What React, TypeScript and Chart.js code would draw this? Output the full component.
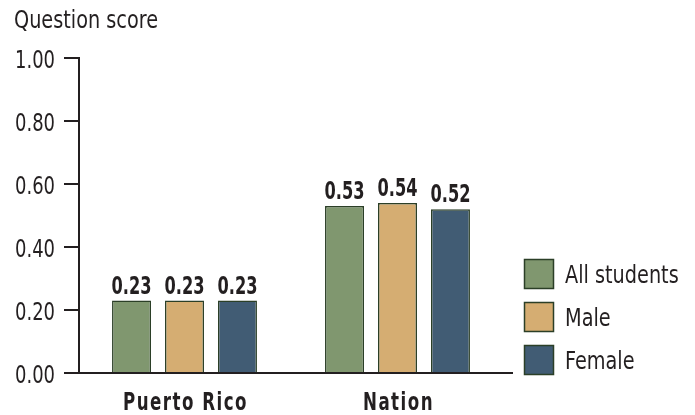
import React, { useEffect, useRef } from "react";
import { Chart, registerables } from "chart.js";

Chart.register(...registerables);

const categories = ["Puerto Rico", "Nation"];
const seriesNames = ["All students", "Male", "Female"];
const allStudents = [0.23, 0.53];
const male = [0.23, 0.54];
const female = [0.23, 0.52];
const yTicks = [0, 0.2, 0.4, 0.6, 0.8, 1.0];
const yTitle = "Question score";
const colors = ["#80976f", "#d5ad72", "#415c74"];
const borderColor = "#2b3f27";
const textColor = "#231f20";
const FONT = "'Liberation Sans Narrow', 'DejaVu Sans Condensed', 'Liberation Sans', sans-serif";
const SIZE = 25;

// draws horizontally condensed text (the reference uses a condensed face)
function condensedText(ctx: any, text: string, x: number, y: number, align: string, sx: number) {
  ctx.save();
  ctx.translate(x, y);
  ctx.scale(sx, 1);
  ctx.textAlign = align;
  ctx.textBaseline = "alphabetic";
  ctx.fillText(text, 0, 0);
  ctx.restore();
}

const overlayPlugin = {
  id: "overlay",
  afterDraw(chart: any) {
    const ctx = chart.ctx;
    const area = chart.chartArea;
    const xs = chart.scales.x;
    const ys = chart.scales.y;
    ctx.save();
    // axes lines
    ctx.strokeStyle = textColor;
    ctx.lineWidth = 2;
    ctx.beginPath();
    ctx.moveTo(area.left + 1, area.top - 1);
    ctx.lineTo(area.left + 1, area.bottom);
    ctx.lineTo(area.right + 9, area.bottom);
    ctx.stroke();

    const regular = `${SIZE}px ${FONT}`;
    const bold = `bold ${SIZE}px ${FONT}`;
    ctx.font = regular;
    const sxR = 144 / ctx.measureText(yTitle).width;
    const sxRD = 40 / ctx.measureText("1.00").width;
    ctx.font = bold;
    const sxBD = 40 / ctx.measureText("0.23").width;
    ctx.letterSpacing = "2px";
    const sxB = 125 / ctx.measureText(categories[0]).width;
    ctx.letterSpacing = "0px";

    ctx.fillStyle = textColor;
    // title
    ctx.font = regular;
    condensedText(ctx, yTitle, 14, 28, "left", sxR);
    // y tick labels
    yTicks.forEach((v) => {
      const py = ys.getPixelForValue(v);
      condensedText(ctx, v.toFixed(2), 55, py + 9.5, "right", sxRD);
    });
    // legend
    chart.data.datasets.forEach((ds: any, i: number) => {
      const y = 259 + i * 43;
      ctx.fillStyle = ds.backgroundColor;
      ctx.fillRect(524, y, 30, 30);
      ctx.strokeStyle = borderColor;
      ctx.lineWidth = 1.5;
      ctx.strokeRect(524.5, y + 0.5, 29, 29);
      ctx.fillStyle = textColor;
      ctx.font = regular;
      condensedText(ctx, ds.label, 565, y + 23.5, "left", sxR);
    });
    // category labels
    ctx.font = bold;
    ctx.letterSpacing = "2px";
    categories.forEach((c, i) => {
      condensedText(ctx, c, xs.getPixelForValue(i) + 1, 410, "center", sxB);
    });
    ctx.letterSpacing = "0px";
    // value labels
    chart.data.datasets.forEach((ds: any, i: number) => {
      const meta = chart.getDatasetMeta(i);
      meta.data.forEach((bar: any, j: number) => {
        condensedText(ctx, Number(ds.data[j]).toFixed(2), bar.x, bar.y - 7, "center", sxBD);
      });
    });
    ctx.restore();
  },
};

export default function App() {
  const ref = useRef<HTMLCanvasElement | null>(null);
  useEffect(() => {
    document.body.style.margin = "0";
    const seriesData = [allStudents, male, female];
    const chart = new Chart(ref.current as HTMLCanvasElement, {
      type: "bar",
      data: {
        labels: categories,
        datasets: seriesNames.map((name, i) => ({
          label: name,
          data: seriesData[i],
          backgroundColor: colors[i],
          borderColor: borderColor,
          borderWidth: 1.5,
          categoryPercentage: 0.746,
          barPercentage: 0.736,
        })),
      },
      options: {
        animation: false,
        responsive: false,
        devicePixelRatio: 1,
        layout: { padding: { left: 0, right: 191, top: 58, bottom: 0 } },
        plugins: { legend: { display: false }, tooltip: { enabled: false }, title: { display: false } },
        scales: {
          x: {
            grid: { display: false, drawTicks: false },
            border: { display: false },
            ticks: { color: "rgba(0,0,0,0)", font: { size: 20 } },
            afterFit(scale: any) {
              scale.height = 42;
            },
          },
          y: {
            min: 0,
            max: 1,
            afterBuildTicks(scale: any) {
              scale.ticks = yTicks.map((v) => ({ value: v }));
            },
            grid: { drawOnChartArea: false, drawTicks: true, tickLength: 14, color: textColor, lineWidth: 2 },
            border: { display: false },
            ticks: { color: "rgba(0,0,0,0)", font: { size: 20 }, padding: 9 },
            afterFit(scale: any) {
              scale.width = 78;
            },
          },
        },
      },
      plugins: [overlayPlugin],
    });
    return () => chart.destroy();
  }, []);
  return (
    <div style={{ position: "absolute", left: 0, top: 0, width: 695, height: 415, background: "#fff" }}>
      <canvas ref={ref} width={695} height={415} />
    </div>
  );
}
